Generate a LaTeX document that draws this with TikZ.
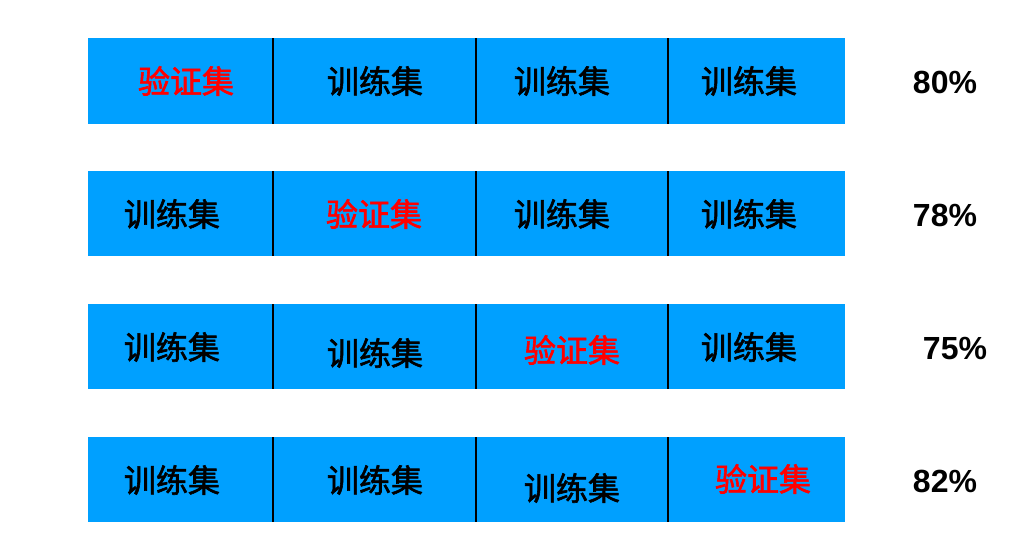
\documentclass[tikz,border=0pt]{standalone}
\usepackage{fontspec}
\setmainfont{Liberation Sans}
\newfontfamily\cjk{Noto Sans CJK SC}[FakeBold=1.8]
\definecolor{barblue}{RGB}{0,160,255}
\definecolor{valred}{RGB}{255,0,0}
\tikzset{
	train/.style={font=\cjk\fontsize{32}{32}\selectfont, text=black, inner sep=0pt},
	val/.style={font=\cjk\fontsize{32}{32}\selectfont, text=valred, inner sep=0pt},
	score/.style={font=\bfseries\fontsize{32}{32}\selectfont, inner sep=0pt},
	sep/.style={line width=2.2pt, black}
}
\begin{document}
\begin{tikzpicture}[x=1pt,y=-1pt]
		
		\useasboundingbox (0,0) rectangle (1031,536);
		
		% Barras
		\fill[barblue] (88,38) rectangle (845,124);
		\fill[barblue] (88,171) rectangle (845,256);
		\fill[barblue] (88,304) rectangle (845,389);
		\fill[barblue] (88,437) rectangle (845,522);
		
		% Separadores
		\draw[sep] (273,38) -- (273,124) (476,38) -- (476,124) (668,38) -- (668,124);
		\draw[sep] (273,171) -- (273,256) (476,171) -- (476,256) (668,171) -- (668,256);
		\draw[sep] (273,304) -- (273,389) (476,304) -- (476,389) (668,304) -- (668,389);
		\draw[sep] (273,437) -- (273,522) (476,437) -- (476,522) (668,437) -- (668,522);
		
		% Primera fila
		\node[val] (v1) at (186,81) {验证集};
		\node[train] (t12) at (375,81) {训练集};
		\node[train] (t13) at (562,81) {训练集};
		\node[train] (t14) at (749,81) {训练集};
		\node[score] (s1) at (945,82) {80\%};
		
		% Segunda fila
		\node[train] (t21) at (172,214) {训练集};
		\node[val] (v2) at (374,214) {验证集};
		\node[train] (t23) at (562,214) {训练集};
		\node[train] (t24) at (749,214) {训练集};
		\node[score] (s2) at (945,215) {78\%};
		
		% Tercera fila
		\node[train] (t31) at (172,347) {训练集};
		\node[train] (t32) at (375,353) {训练集};
		\node[val] (v3) at (572,350) {验证集};
		\node[train] (t34) at (749,347) {训练集};
		\node[score] (s3) at (955,349) {75\%};
		
		% Cuarta fila
		\node[train] (t41) at (172,480) {训练集};
		\node[train] (t42) at (375,480) {训练集};
		\node[train] (t43) at (572,488) {训练集};
		\node[val] (v4) at (763,479) {验证集};
		\node[score] (s4) at (945,481) {82\%};
		
	\end{tikzpicture}
\end{document}
